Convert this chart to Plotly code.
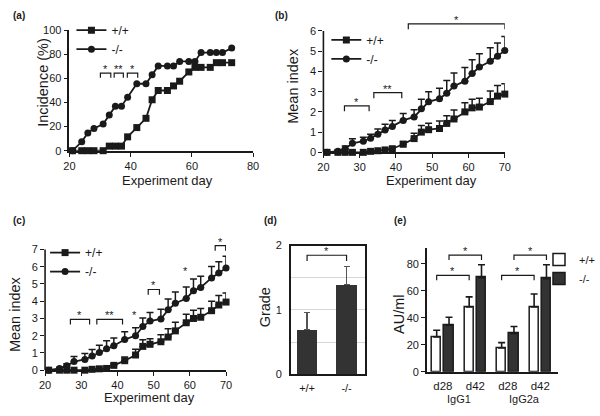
import plotly.graph_objects as go

W, H = 600, 416
def px(x): return x / W
def py(y): return 1 - y / H

FONT = "Liberation Sans, Arial, Helvetica, sans-serif"
INK = "#1a1a1a"
DARK = "#333333"

# ---------------- data ----------------
# (a) incidence
days_a = [21, 24, 26, 28, 31, 33, 35, 37, 39, 42, 45, 47, 49, 52, 54, 56, 59, 61, 63, 66, 68, 70, 73]
incidence_wt = [0, 0, 0, 0, 0, 3.8, 3.8, 3.8, 11.5, 19.2, 26.9, 42.3, 50, 50, 53.8, 57.7, 65.4, 69.2, 69.2, 69.2, 73.1, 73.1, 73.1]
incidence_ko = [0, 7.4, 14.8, 18.5, 22.2, 29.6, 37.0, 37.0, 44.4, 55.6, 55.6, 63.0, 70.4, 70.4, 70.4, 74.1, 74.1, 74.1, 81.5, 81.5, 81.5, 81.5, 85.2]
sig_a = [(30.1, 33.5, 64.5, "*"), (34.6, 37.6, 64.5, "**"), (38.9, 42.3, 64.5, "*")]

# (b) and (c) mean index
days_bc = [21, 24, 26, 28, 31, 33, 35, 37, 39, 42, 45, 47, 49, 52, 54, 56, 59, 61, 63, 66, 68, 70]
b_wt = [0, 0, 0, 0, 0, 0.05, 0.08, 0.12, 0.18, 0.4, 0.68, 1.0, 1.12, 1.18, 1.43, 1.65, 2.0, 2.2, 2.24, 2.51, 2.78, 2.88]
b_wt_err = [None, None, None, None, None, None, None, None, None, 0.14, 0.27, 0.33, 0.32, 0.37, 0.38, 0.44, 0.45, 0.43, 0.44, 0.52, 0.52, 0.51]
b_ko = [0, 0.06, 0.18, 0.45, 0.55, 0.7, 0.9, 1.1, 1.28, 1.58, 1.75, 2.15, 2.5, 2.65, 2.92, 3.28, 3.52, 3.9, 4.22, 4.5, 4.75, 5.03]
b_ko_err = [None, 0.05, 0.13, 0.22, 0.2, 0.2, 0.25, 0.29, 0.3, 0.34, 0.35, 0.47, 0.5, 0.52, 0.63, 0.64, 0.67, 0.68, 0.65, 0.67, 0.66, 0.7]
sig_b = [(25.8, 32.6, 2.3, "*"), (33.9, 41.6, 2.95, "**"), (43.4, 70.0, 6.35, "*")]

c_wt = [0, 0, 0, 0, 0, 0.05, 0.08, 0.1, 0.28, 0.55, 0.88, 1.38, 1.5, 1.65, 1.92, 2.28, 2.75, 3.0, 3.07, 3.45, 3.78, 3.95]
c_wt_err = [None, None, None, None, None, None, None, None, 0.1, 0.22, 0.33, 0.38, 0.33, 0.4, 0.48, 0.5, 0.5, 0.48, 0.5, 0.55, 0.55, 0.52]
c_ko = [0, 0.1, 0.25, 0.5, 0.62, 0.82, 1.03, 1.25, 1.42, 1.78, 2.0, 2.53, 2.85, 2.97, 3.5, 3.88, 4.15, 4.6, 4.8, 5.35, 5.63, 5.93]
c_ko_err = [None, 0.05, 0.12, 0.3, 0.35, 0.38, 0.42, 0.45, 0.45, 0.45, 0.46, 0.5, 0.5, 0.56, 0.63, 0.65, 0.67, 0.69, 0.65, 0.66, 0.66, 0.68]
sig_c = [(27.0, 32.3, 2.95, "*"), (34.3, 41.4, 2.95, "**"), (48.5, 51.6, 4.68, "*"), (67.0, 69.9, 7.22, "*")]
stars_c = [(44.6, 2.95, "*"), (58.7, 5.5, "*")]

# (d) grade
genotypes = ["+/+", "-/-"]
grade = [0.70, 1.39]
grade_err = [0.26, 0.29]
sig_d_level = 1.85

# (e) antibodies
days_e = ["d28", "d42", "d28", "d42"]
isotypes = ["IgG1", "IgG1", "IgG2a", "IgG2a"]
au_wt = [25.9, 48.0, 17.6, 48.0]
au_wt_err = [4.9, 7.5, 4.0, 9.7]
au_ko = [34.6, 69.7, 28.4, 69.0]
au_ko_err = [5.8, 9.6, 5.2, 10.3]
sig_e = [(0, 1, "wt", 71.4), (0, 1, "ko", 86.5), (2, 3, "wt", 71.4), (2, 3, "ko", 86.5)]

# ---------------- figure ----------------
fig = go.Figure()
STAR_FONT = dict(size=11, color=INK, family=FONT)

def err(e):
    return dict(type="data", array=e, arrayminus=[None if v is None else 0 for v in e],
                symmetric=False, color=INK, thickness=1.5, width=3.5)

def line_trace(x, y, e, sym, name, xa, ya, leg):
    fig.add_trace(go.Scatter(
        x=x, y=y, mode="lines+markers", name=name,
        line=dict(color=INK, width=1.8),
        marker=dict(symbol=sym, size=7, color=INK),
        error_y=err(e) if e is not None else None,
        cliponaxis=False, xaxis=xa, yaxis=ya, legend=leg, hoverinfo="skip"))

def bracket(x0, x1, lvl, tip, xa, ya, label):
    fig.add_trace(go.Scatter(
        x=[x0, x0, x1, x1], y=[lvl - tip, lvl, lvl, lvl - tip], mode="lines",
        line=dict(color=INK, width=1.2), showlegend=False, hoverinfo="skip",
        cliponaxis=False, xaxis=xa, yaxis=ya))
    fig.add_annotation(x=(x0 + x1) / 2, y=lvl, xref=xa, yref=ya, text=label,
                       showarrow=False, yanchor="bottom", yshift=-4, font=STAR_FONT)

# (a)
line_trace(days_a, incidence_wt, None, "square", "+/+", "x", "y", "legend")
line_trace(days_a, incidence_ko, None, "circle", "-/-", "x", "y", "legend")
for x0, x1, lvl, lab in sig_a:
    bracket(x0, x1, lvl, 4, "x", "y", lab)

# (b)
line_trace(days_bc, b_wt, b_wt_err, "square", "+/+", "x2", "y2", "legend2")
line_trace(days_bc, b_ko, b_ko_err, "circle", "-/-", "x2", "y2", "legend2")
for x0, x1, lvl, lab in sig_b:
    bracket(x0, x1, lvl, 0.27, "x2", "y2", lab)

# (c)
line_trace(days_bc, c_wt, c_wt_err, "square", "+/+", "x3", "y3", "legend3")
line_trace(days_bc, c_ko, c_ko_err, "circle", "-/-", "x3", "y3", "legend3")
for x0, x1, lvl, lab in sig_c:
    bracket(x0, x1, lvl, 0.3, "x3", "y3", lab)
for xs, lvl, lab in stars_c:
    fig.add_annotation(x=xs, y=lvl, xref="x3", yref="y3", text=lab, showarrow=False,
                       yanchor="bottom", yshift=-4, font=STAR_FONT)

# (d)
d_x = list(range(len(genotypes)))
fig.add_trace(go.Bar(
    x=d_x, y=grade, width=0.52, marker=dict(color=DARK, line=dict(width=0)),
    error_y=dict(type="data", array=grade_err, arrayminus=[0] * len(grade_err), symmetric=False,
                 color="#555555", thickness=1.2, width=3),
    showlegend=False, xaxis="x4", yaxis="y4", hoverinfo="skip"))
bracket(d_x[0], d_x[1], sig_d_level, 0.09, "x4", "y4", "*")

# (e)
E_OFF = 0.19
E_W = 0.285
e_x = list(range(len(days_e)))
fig.add_trace(go.Bar(
    x=e_x, y=au_wt, name="+/+", width=E_W, offset=-E_OFF - E_W / 2,
    marker=dict(color="white", line=dict(color=INK, width=1.5)),
    error_y=dict(type="data", array=au_wt_err, arrayminus=[0] * 4, symmetric=False,
                 color=INK, thickness=1.6, width=3.5),
    xaxis="x5", yaxis="y5", legend="legend4", hoverinfo="skip"))
fig.add_trace(go.Bar(
    x=e_x, y=au_ko, name="-/-", width=E_W, offset=E_OFF - E_W / 2,
    marker=dict(color=DARK, line=dict(color=INK, width=1.5)),
    error_y=dict(type="data", array=au_ko_err, arrayminus=[0] * 4, symmetric=False,
                 color=INK, thickness=1.6, width=3.5),
    xaxis="x5", yaxis="y5", legend="legend4", hoverinfo="skip"))
for g0, g1, ser, lvl in sig_e:
    off = -E_OFF if ser == "wt" else E_OFF
    bracket(g0 + off, g1 + off, lvl, 3.6, "x5", "y5", "*")
for iso in ["IgG1", "IgG2a"]:
    idx = [i for i, v in enumerate(isotypes) if v == iso]
    fig.add_annotation(x=sum(idx) / len(idx), y=py(404.5), xref="x5", yref="paper",
                       xanchor="center", yanchor="middle",
                       text=iso, showarrow=False, font=dict(size=11, color=INK, family=FONT))

# ---------------- axes ----------------
tickfont = dict(size=11, color=INK, family=FONT)
base = dict(showgrid=False, zeroline=False, showline=True, linecolor=INK, linewidth=1.6,
            ticks="outside", ticklen=4, tickwidth=1.4, tickcolor=INK, tickfont=tickfont)

fig.update_layout(
    xaxis=dict(base, domain=[px(65), px(253)], range=[20, 80], tickvals=[20, 40, 60, 80], anchor="y"),
    yaxis=dict(base, domain=[py(149), py(25)], range=[0, 100], tickvals=[0, 20, 40, 60, 80, 100], anchor="x"),
    xaxis2=dict(base, domain=[px(325), px(510.7)], range=[20, 70], tickvals=[20, 30, 40, 50, 60, 70], anchor="y2"),
    yaxis2=dict(base, domain=[py(150.7), py(2.8)], range=[0, 7.1], tickvals=[0, 1, 2, 3, 4, 5, 6],
                showline=False, anchor="x2"),
    xaxis3=dict(base, domain=[px(40), px(225.3)], range=[20, 70], tickvals=[20, 30, 40, 50, 60, 70], anchor="y3"),
    yaxis3=dict(base, domain=[py(375), py(236.5)], range=[0, 7.8], tickvals=[0, 1, 2, 3, 4, 5, 6, 7],
                showline=False, anchor="x3"),
    xaxis4=dict(base, domain=[px(291.7), px(367.3)], range=[-0.41, 1.46], tickvals=d_x, ticktext=genotypes,
                ticks="", mirror=True, linewidth=1.6, ticklabelstandoff=3, anchor="y4"),
    yaxis4=dict(base, domain=[py(379.3), py(246.7)], range=[0, 2.0], tickvals=[0, 0.5, 1, 1.5, 2],
                ticktext=["0", "", "1", "", "2"], ticks="", mirror=True, showgrid=True,
                gridcolor="#d6d6d6", gridwidth=1, ticklabelstandoff=5, anchor="x4"),
    xaxis5=dict(base, domain=[px(431), px(565)], range=[-0.49, 3.54], tickvals=e_x, ticktext=days_e,
                ticks="", ticklabelstandoff=3, tickfont=dict(size=11.5, color=INK, family=FONT), anchor="y5"),
    yaxis5=dict(base, domain=[py(376.7), py(249.5)], range=[0, 91.5], tickvals=[0, 20, 40, 60, 80], anchor="x5"),
)

# y axis lines for (b) and (c) ending at the top tick
for xa, ya, top in [("x2", "y2", 6), ("x3", "y3", 7)]:
    fig.add_shape(type="line", xref=f"{xa} domain", yref=ya, x0=0, x1=0, y0=0, y1=top,
                  line=dict(color=INK, width=1.6))

# legends
leg_common = dict(xanchor="left", yanchor="top", bgcolor="rgba(0,0,0,0)",
                  font=dict(size=12, color=INK, family=FONT), itemwidth=30, tracegroupgap=0)
fig.update_layout(
    legend=dict(leg_common, x=px(67), y=py(10)),
    legend2=dict(leg_common, x=px(328), y=py(20)),
    legend3=dict(leg_common, x=px(40), y=py(239)),
    legend4=dict(leg_common, x=px(546), y=py(246), font=dict(size=11, color=INK, family=FONT)),
)

# axis titles and panel labels
def title(x, y, text, angle=0, size=13):
    fig.add_annotation(x=px(x), y=py(y), xref="paper", yref="paper", text=text, textangle=angle,
                       showarrow=False, xanchor="center", yanchor="middle",
                       font=dict(size=size, color=INK, family=FONT))

title(38, 79, "Incidence (%)", -90, 14.5)
title(165.7, 180, "Experiment day")
title(293, 82, "Mean index", -90, 14.5)
title(436, 180, "Experiment day")
title(10, 317.5, "Mean index", -90, 14.5)
title(147, 403.3, "Experiment day")
title(265.5, 310, "Grade", -90, 14.5)
title(402.5, 318, "AU/ml", -90, 14.5)

for lab, x, y in [("(a)", 5, 10), ("(b)", 273, 10), ("(c)", 5, 221), ("(d)", 262, 221), ("(e)", 395, 221)]:
    fig.add_annotation(x=px(x), y=py(y), xref="paper", yref="paper", text=f"<b>{lab}</b>",
                       showarrow=False, xanchor="left", yanchor="middle",
                       font=dict(size=10, color=INK, family=FONT))

fig.update_layout(
    width=W, height=H, margin=dict(l=0, r=0, t=0, b=0),
    paper_bgcolor="white", plot_bgcolor="white",
    font=dict(family=FONT, color=INK),
    barmode="overlay", bargap=0,
)

fig.write_html("out.html", config={"displayModeBar": False},
               post_script="document.body.style.margin='0';document.body.style.overflow='hidden';")
